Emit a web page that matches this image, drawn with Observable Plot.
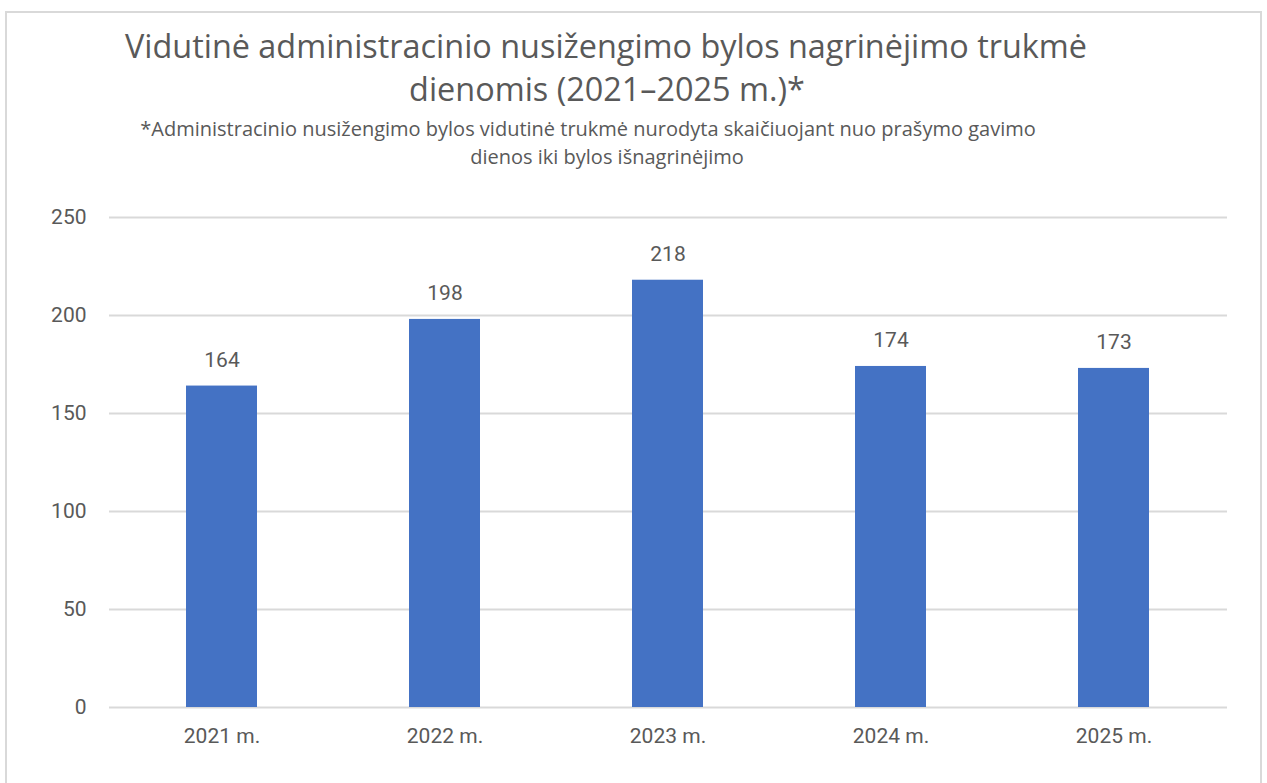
<!DOCTYPE html>
<html>
<head>
<meta charset="utf-8">
<script src="https://cdn.jsdelivr.net/npm/d3@7"></script>
<script src="https://cdn.jsdelivr.net/npm/@observablehq/plot@0.6"></script>
<style>
  html, body { margin: 0; padding: 0; background: #fff; }
  body { width: 1267px; height: 783px; position: relative; overflow: hidden; }
  #frame { position: absolute; left: 5px; top: 11px; width: 1253px; height: 800px;
           border: 2px solid #d9d9d9; box-sizing: content-box; pointer-events: none; }
  #head { position: relative; height: 190px; width: 1267px; }
  .line { position: absolute; white-space: nowrap; color: #595959; transform: translateX(-50%); line-height: 1.2; }
  .t { font-family: "Open Sans", sans-serif; font-size: 32.4px; font-weight: 400; }
  .s { font-family: "Open Sans", sans-serif; font-size: 20px; font-weight: 400; }
  #chart svg { display: block; }
</style>
</head>
<body>
<div id="frame"></div>
<div id="head">
  <div class="line t" id="t1" style="left:606px; top:26px;">Vidutinė administracinio nusižengimo bylos nagrinėjimo trukmė</div>
  <div class="line t" id="t2" style="left:607px; top:69px;">dienomis (2021–2025 m.)*</div>
  <div class="line s" id="s1" style="left:588px; top:117px;">*Administracinio nusižengimo bylos vidutinė trukmė nurodyta skaičiuojant nuo prašymo gavimo</div>
  <div class="line s" id="s2" style="left:607px; top:145px;">dienos iki bylos išnagrinėjimo</div>
</div>
<div id="chart"></div>
<script>
const years = ["2021 m.", "2022 m.", "2023 m.", "2024 m.", "2025 m."];
const days = [164, 198, 218, 174, 173];
const yTicks = [0, 50, 100, 150, 200, 250];

const data = years.map((y, i) => ({year: y, value: days[i]}));

const chart = Plot.plot({
  width: 1267,
  height: 593,
  marginLeft: 109,
  marginRight: 40,
  marginTop: 27,
  marginBottom: 76,
  style: {fontFamily: "Roboto, sans-serif", fontSize: "21px", color: "#595959", background: "transparent"},
  x: {domain: years, paddingInner: 0.68, paddingOuter: 0.34, label: null},
  y: {domain: [0, 250], label: null},
  marks: [
    Plot.ruleY(yTicks, {stroke: "#d9d9d9", strokeWidth: 2}),
    Plot.barY(data, {x: "year", y: "value", fill: "#4472C4"}),
    Plot.text(data, {x: "year", y: "value", text: d => String(d.value), dy: -26, fill: "#595959", fontSize: 21}),
    Plot.axisY(yTicks, {tickSize: 0, tickPadding: 23, fill: "#595959", fontSize: 21, tickFormat: d => String(d)}),
    Plot.axisX({tickSize: 0, tickPadding: 21, fill: "#595959", fontSize: 21})
  ]
});
document.getElementById("chart").appendChild(chart);
</script>
</body>
</html>
